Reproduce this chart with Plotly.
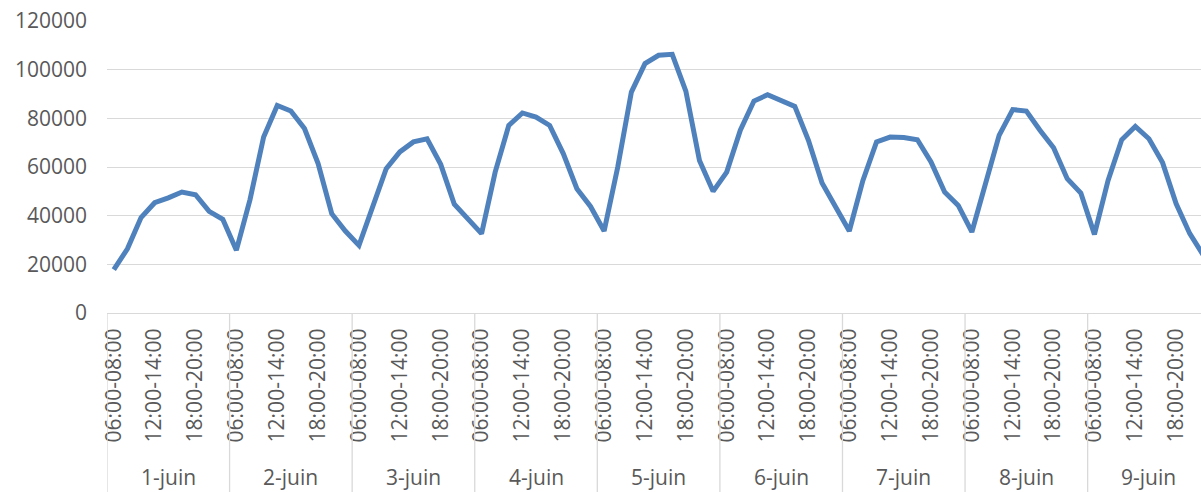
import plotly.graph_objects as go

days = ["1-juin", "2-juin", "3-juin", "4-juin", "5-juin", "6-juin", "7-juin", "8-juin", "9-juin"]
slots = ["06:00-08:00", "08:00-10:00", "10:00-12:00", "12:00-14:00", "14:00-16:00",
         "16:00-18:00", "18:00-20:00", "20:00-22:00", "22:00-24:00"]
shown_slots = ["06:00-08:00", "12:00-14:00", "18:00-20:00"]

values = [
    17800, 26400, 39200, 45300, 47300, 49700, 48600, 41800, 38500,
    25800, 46600, 72300, 85300, 83000, 75800, 61400, 40800, 33700,
    27800, 42900, 59300, 66200, 70300, 71600, 61100, 44700, 38400,
    32600, 57900, 77100, 82200, 80500, 77100, 65500, 51100, 43800,
    33700, 60000, 90800, 102500, 105900, 106300, 91200, 62700, 50000,
    57900, 75100, 87100, 89700, 87400, 84900, 71000, 53400, 43600,
    33700, 54500, 70300, 72300, 72100, 71200, 62100, 49700, 44200,
    33300, 53200, 73000, 83600, 83000, 75100, 67900, 55200, 49300,
    32300, 54500, 71200, 76700, 71600, 61800, 44900, 32600, 23700,
]

n_slots = len(slots)
x_idx = list(range(len(values)))

FONT = "Open Sans"
TXT = "#595959"
GRID = "#d9d9d9"

fig = go.Figure()
fig.add_trace(go.Scatter(
    x=x_idx, y=values, mode="lines",
    line=dict(color="#4f81bd", width=5),
    hoverinfo="skip", showlegend=False,
))

tickvals, ticktext = [], []
for d in range(len(days)):
    for j, s in enumerate(slots):
        if s in shown_slots:
            tickvals.append(d * n_slots + j)
            ticktext.append(s)

W, H = 1201, 492
L, T, B = 107, 21, 179
plot_w = W - L
px_per_cat = 13.62
x_max = plot_w / px_per_cat - 0.5
plot_h = H - T - B
bottom_paper = -B / plot_h

shapes = []
for d in range(len(days) + 1):
    xb = d * n_slots - 0.5
    shapes.append(dict(type="line", xref="x", yref="paper", x0=xb, x1=xb,
                       y0=0, y1=bottom_paper, line=dict(color=GRID, width=1.3)))

annotations = []
label_y = (313 - 477) / plot_h
for d, name in enumerate(days):
    annotations.append(dict(x=d * n_slots + (n_slots - 1) / 2, y=label_y,
                            xref="x", yref="paper", text=name, showarrow=False,
                            font=dict(family=FONT, size=21, color=TXT),
                            xanchor="center", yanchor="middle"))

fig.update_layout(
    width=W, height=H,
    margin=dict(l=L, r=0, t=T, b=B, pad=0),
    paper_bgcolor="white", plot_bgcolor="white",
    font=dict(family=FONT, size=21, color=TXT),
    shapes=shapes, annotations=annotations,
    xaxis=dict(range=[-0.5, x_max], tickmode="array", tickvals=tickvals,
               ticktext=ticktext, tickangle=-90, showgrid=False, zeroline=False,
               showline=True, linecolor=GRID, linewidth=1.3, ticks="",
               ticklabelstandoff=6, ticklabeloverflow="allow",
               tickfont=dict(family=FONT, size=21, color=TXT)),
    yaxis=dict(range=[0, 120000], dtick=20000, showgrid=True, gridcolor=GRID,
               gridwidth=1.3, zeroline=False, showline=False, ticks="",
               tickformat="d", ticklabelstandoff=19, ticklabeloverflow="allow",
               tickfont=dict(family=FONT, size=21, color=TXT)),
)

fig.write_html(
    "out.html",
    config={"displayModeBar": False},
    post_script="document.body.style.margin='0';document.body.style.overflow='hidden';",
)
